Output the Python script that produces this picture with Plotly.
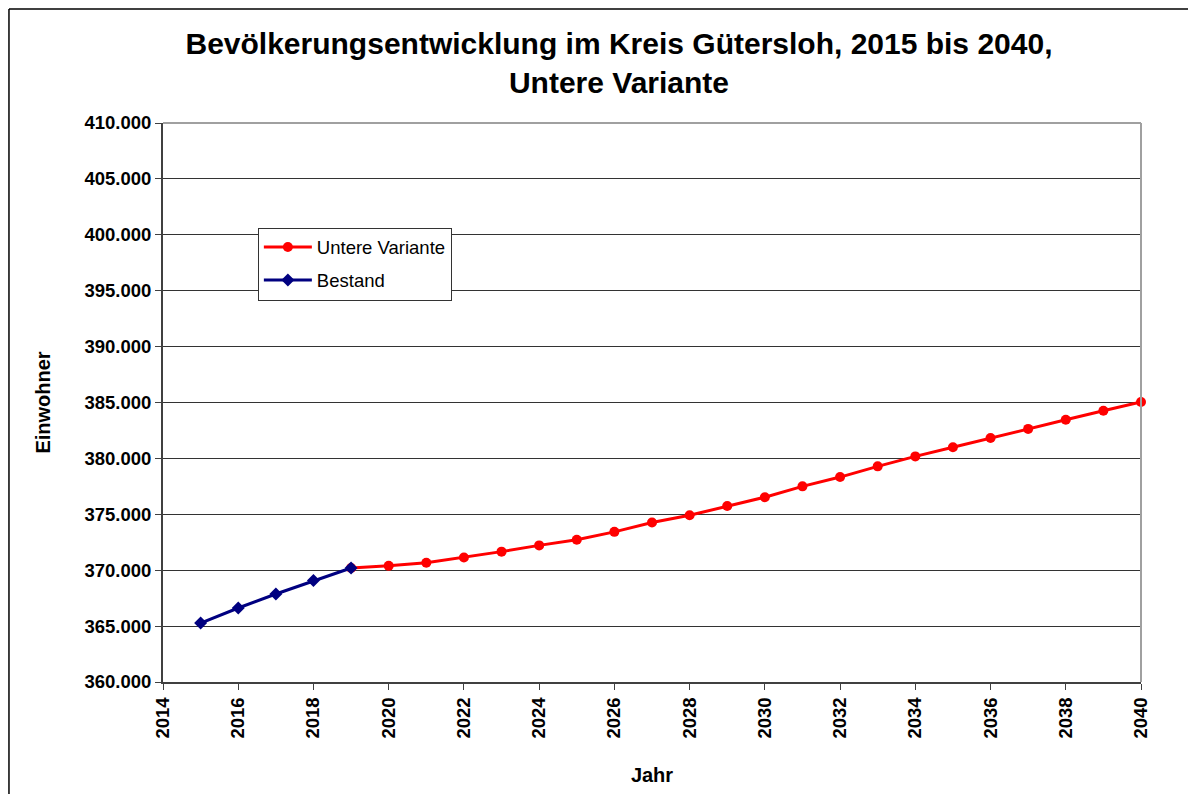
import plotly.graph_objects as go

years_bestand = [2015, 2016, 2017, 2018, 2019]
bestand = [365270, 366620, 367870, 369070, 370200]

years_variante = list(range(2019, 2041))
untere_variante = [370200, 370390, 370660, 371130, 371660, 372220, 372720, 373430,
                   374260, 374910, 375740, 376530, 377500, 378330, 379290, 380180,
                   380990, 381830, 382640, 383450, 384260, 385050]

x_ticks = list(range(2014, 2041, 2))
y_ticks = list(range(360000, 410001, 5000))

FONT = "Liberation Sans, Arial, sans-serif"

fig = go.Figure()
fig.add_trace(go.Scatter(
    x=years_variante, y=untere_variante, name="Untere Variante",
    mode="lines+markers", legendgroup="a",
    line=dict(color="#FF0000", width=3),
    marker=dict(symbol="circle", size=10, color="#FF0000"),
    cliponaxis=False,
))
fig.add_trace(go.Scatter(
    x=years_bestand, y=bestand, name="Bestand",
    mode="lines+markers", legendgroup="b",
    line=dict(color="#000080", width=3),
    marker=dict(symbol="diamond", size=10, color="#000080"),
    cliponaxis=False,
))

# plot frame (top/right grey)
fig.add_shape(type="line", xref="paper", yref="paper", x0=0, x1=1, y0=1, y1=1,
              line=dict(color="#A0A0A0", width=2))
fig.add_shape(type="line", xref="paper", yref="paper", x0=1, x1=1, y0=0, y1=1,
              line=dict(color="#A0A0A0", width=2))
# outer chart border (kept inside the figure area)
BL, BR, BT = -0.1575, 1.0522, 1.2039
fig.add_shape(type="line", xref="paper", yref="paper", x0=BL, x1=BL, y0=-0.25, y1=BT,
              line=dict(color="#000000", width=1.5), layer="below")
fig.add_shape(type="line", xref="paper", yref="paper", x0=BL, x1=BR, y0=BT, y1=BT,
              line=dict(color="#000000", width=1.5), layer="below")
fig.add_shape(type="line", xref="paper", yref="paper", x0=BR, x1=BR, y0=-0.25, y1=BT,
              line=dict(color="#000000", width=1.5), layer="below")

fig.update_layout(
    width=1188, height=786,
    margin=dict(l=155, r=55, t=115, b=112),
    paper_bgcolor="white", plot_bgcolor="white",
    separators=",.",
    font=dict(family=FONT, color="#000000"),
    title=dict(
        text="<b>Bevölkerungsentwicklung im Kreis Gütersloh, 2015 bis 2040,<br>Untere Variante</b>",
        x=0.5143, xanchor="center", y=0.9421, yanchor="middle",
        font=dict(size=30, family=FONT),
    ),
    xaxis=dict(
        range=[2014, 2040], tickvals=x_ticks, ticktext=[str(v) for v in x_ticks],
        tickangle=-90, ticks="outside", ticklen=6, tickcolor="#404040",
        showline=True, linecolor="#404040", linewidth=2, showgrid=False,
        zeroline=False,
        tickfont=dict(size=18.5, family=FONT, color="#000000", weight="bold"),
        title=dict(text="<b>Jahr</b>", font=dict(size=20, family=FONT), standoff=30),
    ),
    yaxis=dict(
        range=[360000, 410000], tickvals=y_ticks, tickformat=",d",
        ticks="outside", ticklen=6, tickcolor="#404040",
        showline=True, linecolor="#404040", linewidth=2,
        showgrid=True, gridcolor="#333333", gridwidth=1, zeroline=False,
        tickfont=dict(size=18.5, family=FONT, color="#000000", weight="bold"),
        title=dict(text="<b>Einwohner</b>", font=dict(size=20, family=FONT), standoff=28),
    ),
    legend=dict(
        x=0.097, y=0.813, xanchor="left", yanchor="top",
        bgcolor="white", bordercolor="#333333", borderwidth=1,
        font=dict(size=18.5, family=FONT, color="#000000"),
        itemwidth=48, traceorder="grouped", tracegroupgap=6,
    ),
    showlegend=True,
)

fig.write_html("out.html")
